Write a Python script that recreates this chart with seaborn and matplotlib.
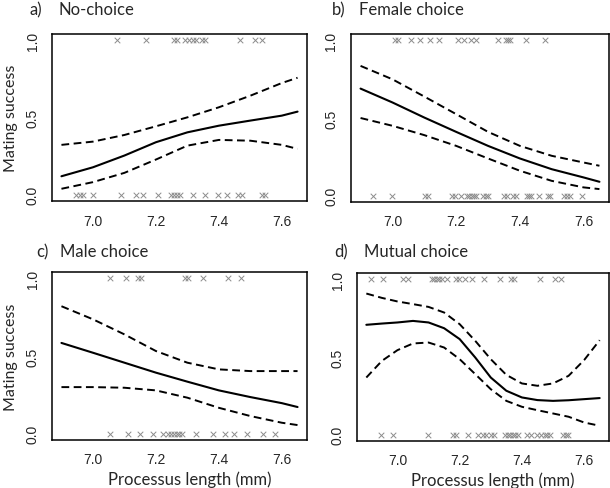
import matplotlib
matplotlib.use("Agg")
import matplotlib.pyplot as plt
import pandas as pd
import seaborn as sns

# fitted curve, x positions (mm)
fit_x = [6.9, 7.0, 7.1, 7.2, 7.3, 7.4, 7.5, 7.6, 7.65]
mutual_x = [6.9, 6.95, 7.0, 7.05, 7.1, 7.15, 7.2, 7.25, 7.3, 7.35, 7.4, 7.45, 7.5, 7.55, 7.6, 7.65]

# a) No-choice
nochoice_fit = [0.12, 0.178, 0.254, 0.34, 0.404, 0.447, 0.48, 0.512, 0.538]
nochoice_upper = [0.323, 0.344, 0.387, 0.443, 0.501, 0.566, 0.641, 0.723, 0.757]
nochoice_lower = [0.039, 0.082, 0.142, 0.228, 0.318, 0.355, 0.35, 0.323, 0.297]
nochoice_mated = [7.078, 7.169, 7.258, 7.267, 7.293, 7.304, 7.317, 7.328, 7.346, 7.357,
                  7.466, 7.515, 7.536]
nochoice_unmated = [6.947, 6.958, 6.968, 7.0, 7.089, 7.138, 7.159, 7.208, 7.248, 7.256,
                    7.267, 7.277, 7.317, 7.357, 7.396, 7.425, 7.462, 7.473, 7.536, 7.547]

# b) Female choice
female_fit = [0.689, 0.60, 0.503, 0.411, 0.321, 0.24, 0.171, 0.118, 0.09]
female_upper = [0.835, 0.749, 0.638, 0.525, 0.411, 0.321, 0.257, 0.214, 0.193]
female_lower = [0.5, 0.45, 0.39, 0.321, 0.24, 0.161, 0.096, 0.054, 0.043]
female_mated = [7.008, 7.019, 7.059, 7.088, 7.118, 7.147, 7.205, 7.225, 7.246, 7.264,
                7.330, 7.358, 7.364, 7.369, 7.419, 7.479]
female_unmated = [6.940, 7.0, 7.102, 7.111, 7.186, 7.196, 7.215, 7.233, 7.241, 7.249,
                  7.257, 7.264, 7.284, 7.293, 7.300, 7.351, 7.361, 7.379, 7.389, 7.421,
                  7.429, 7.436, 7.460, 7.487, 7.495, 7.539, 7.548, 7.557, 7.596]

# c) Male choice
male_fit = [0.584, 0.521, 0.457, 0.393, 0.335, 0.279, 0.236, 0.197, 0.172]
male_upper = [0.82, 0.736, 0.639, 0.532, 0.457, 0.414, 0.403, 0.403, 0.403]
male_lower = [0.30, 0.30, 0.296, 0.279, 0.232, 0.167, 0.114, 0.071, 0.056]
male_mated = [7.053, 7.104, 7.143, 7.154, 7.292, 7.301, 7.350, 7.430, 7.470]
male_unmated = [7.053, 7.112, 7.151, 7.191, 7.223, 7.239, 7.248, 7.257, 7.266, 7.275,
                7.283, 7.329, 7.380, 7.419, 7.449, 7.489, 7.540, 7.579]

# d) Mutual choice
mutual_fit = [0.707, 0.715, 0.722, 0.732, 0.722, 0.685, 0.615, 0.497, 0.368, 0.283,
              0.24, 0.223, 0.218, 0.222, 0.229, 0.236]
mutual_upper = [0.908, 0.88, 0.857, 0.84, 0.822, 0.786, 0.711, 0.604, 0.486, 0.385,
                0.33, 0.315, 0.33, 0.379, 0.48, 0.608]
mutual_lower = [0.368, 0.475, 0.544, 0.587, 0.593, 0.561, 0.486, 0.39, 0.293, 0.218,
                0.18, 0.158, 0.137, 0.116, 0.079, 0.058]
mutual_mated = [6.915, 6.955, 7.019, 7.035, 7.110, 7.119, 7.126, 7.134, 7.142, 7.158,
                7.188, 7.198, 7.217, 7.239, 7.278, 7.330, 7.365, 7.374, 7.458, 7.508,
                7.525]
mutual_unmated = [6.948, 6.987, 7.097, 7.180, 7.188, 7.228, 7.258, 7.276, 7.284, 7.300,
                  7.310, 7.345, 7.354, 7.362, 7.371, 7.379, 7.388, 7.418, 7.429, 7.447,
                  7.461, 7.474, 7.482, 7.490, 7.533, 7.541, 7.549]

titles = ["a)", "b)", "c)", "d)"]
names = ["No-choice", "Female choice", "Male choice", "Mutual choice"]
x_ticks = [7.0, 7.2, 7.4, 7.6]
y_ticks = [0.0, 0.5, 1.0]
y_ticklabels = ["0.0", "0.5", "1.0"]

panels = [
    (fit_x, nochoice_fit, nochoice_upper, nochoice_lower, nochoice_mated, nochoice_unmated),
    (fit_x, female_fit, female_upper, female_lower, female_mated, female_unmated),
    (fit_x, male_fit, male_upper, male_lower, male_mated, male_unmated),
    (mutual_x, mutual_fit, mutual_upper, mutual_lower, mutual_mated, mutual_unmated),
]

sns.set_style("white")
plt.rcParams["font.family"] = ["Liberation Sans", "DejaVu Sans"]

W, H = 610, 489
fig = plt.figure(figsize=(W / 100, H / 100), dpi=100)

# axes boxes in pixels: left, top, right, bottom
boxes = [(52, 35, 307, 202), (351, 35, 609, 203), (52, 273, 307, 441), (357, 274, 609, 442)]
# title positions in pixels: label x, name x, centre y
title_pos = [(30, 59, 10), (332, 359, 10), (36, 60, 252), (334, 364, 252)]

label_font = ["Lato", "DejaVu Sans"]

for i, (xs, fit, upper, lower, mated, unmated) in enumerate(panels):
    l, t, r, b = boxes[i]
    ax = fig.add_axes([l / W, 1 - b / H, (r - l) / W, (b - t) / H])

    curves = pd.DataFrame({"x": xs, "fit": fit, "upper": upper, "lower": lower})
    sns.lineplot(data=curves, x="x", y="fit", ax=ax, color="black", lw=1.5)
    for col in ["upper", "lower"]:
        sns.lineplot(data=curves, x="x", y=col, ax=ax, color="black", lw=1.4,
                     linestyle=(0, (4, 2.3)))

    points = pd.DataFrame({
        "x": mated + unmated,
        "y": [1.0] * len(mated) + [0.0] * len(unmated),
    })
    sns.scatterplot(data=points, x="x", y="y", ax=ax, marker="x", s=16,
                    color="#8c8c8c", linewidth=0.7)

    ax.set_xlim(6.87, 7.68)
    ax.set_ylim(-0.04, 1.04)
    ax.set_xticks(x_ticks)
    ax.set_xticklabels([f"{v:.1f}" for v in x_ticks], fontsize=10)
    ax.set_yticks(y_ticks)
    ax.set_yticklabels(y_ticklabels, fontsize=10, rotation=90, va="center")
    ax.tick_params(direction="out", length=4, width=1, color="black", pad=5)
    for sp in ax.spines.values():
        sp.set_visible(True)
        sp.set_color("black")
        sp.set_linewidth(1.1)

    ax.set_xlabel("")
    ax.set_ylabel("")
    if i in (0, 2):
        ax.set_ylabel("Mating success", fontsize=11.5, family=label_font)
        ax.yaxis.set_label_coords(-0.135, 0.5)
    if i in (2, 3):
        ax.set_xlabel("Processus length (mm)", fontsize=12, family=label_font)
        ax.xaxis.set_label_coords(0.54, -0.232)
        ax.xaxis.label.set_va("center")

    lx, nx, cy = title_pos[i]
    fig.text(lx / W, 1 - cy / H, titles[i], fontsize=12, family=label_font, va="center")
    fig.text(nx / W, 1 - cy / H, names[i], fontsize=12, family=label_font, va="center")

fig.savefig("out.png", dpi=100)
